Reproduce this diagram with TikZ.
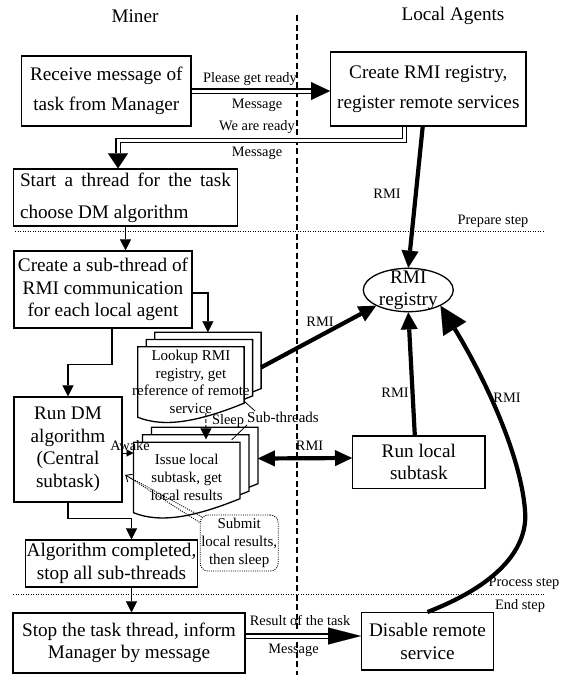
\documentclass[tikz,border=0pt]{standalone}
\usepackage{fontspec}
\setmainfont{Liberation Serif}
\usetikzlibrary{arrows.meta,calc,shapes.geometric,backgrounds}

\newcommand{\boxfont}{\fontsize{19.2}{22.5}\selectfont}
\newcommand{\lblfont}{\fontsize{14.4}{17}\selectfont}
\newcommand{\docfont}{\fontsize{15}{17.7}\selectfont}

\begin{document}
\begin{tikzpicture}[x=1pt,y=-1pt,
  box/.style={draw,line width=1.3pt,inner sep=0pt,align=center,font=\boxfont},
  doc/.style={inner sep=0pt,minimum width=106pt,minimum height=70pt,align=center,font=\docfont},
  docline/.style={line width=1.3pt,fill=white},
  lbl/.style={inner sep=0pt,font=\lblfont},
  flow/.style={line width=1.3pt,-{Triangle[length=11pt,width=11pt,line width=0.1pt]}},
  rmi/.style={line width=4.2pt,-{Triangle[length=17pt,width=17pt,line width=0.1pt]}},
  msg/.style 2 args={line width=5.2pt,-{Triangle[length=#1,width=#2,line width=0.1pt]},
    postaction={draw=white,line width=3pt,shorten <=0.7pt,shorten >=#1,-}},
  stepline/.style={line width=1pt,dash pattern=on 1pt off 1.5pt},
  noteline/.style={line width=0.9pt,dash pattern=on 1pt off 1.2pt}]

\useasboundingbox (0,0) rectangle (566,675);

% lanes and steps
\node[lbl,font=\boxfont] (tMiner) at (135,16) {Miner};
\node[lbl,font=\boxfont] (tAgents) at (453,16) {Local Agents};
\draw[line width=1.2pt,dash pattern=on 6pt off 3.5pt] (297,15) -- (297,675);
\draw[stepline] (15,231) -- (545,231);
\draw[stepline] (13,594) -- (544,594);
\node[lbl] (lPrep) at (493,221) {Prepare step};
\node[lbl] (lProc) at (524,583) {Process step};
\node[lbl] (lEnd) at (520,606) {End step};

% miner
\node[box,minimum width=169.3pt,minimum height=70pt,font=\fontsize{19.2}{30}\selectfont] (recv) at (106.3,91) {Receive message of\\task from Manager};
\node[box,minimum width=224.4pt,minimum height=57pt,text width=211pt,align=justify,font=\fontsize{19.2}{31.7}\selectfont] (start) at (125.5,197.5) {Start a thread for the task\linebreak choose DM algorithm};
\node[box,minimum width=178pt,minimum height=77pt] (subth) at (103,289.5) {Create a sub-thread of\\RMI communication\\for each local agent};
\node[box,minimum width=108pt,minimum height=105pt] (rundm) at (68,449.5) {Run DM\\algorithm\\(Central\\subtask)};
\node[box,minimum width=172pt,minimum height=47pt] (algo) at (111.5,563.5) {Algorithm completed,\\stop all sub-threads};
\node[box,minimum width=232pt,minimum height=60pt] (stop) at (129,643) {Stop the task thread, inform\\Manager by message};

% sub-threads
\node[doc] (lookC) at (207.9,367.4) {};
\node[doc] (lookB) at (199.4,374.7) {};
\node[doc] (lookA) at (190.9,382) {Lookup RMI\\registry, get\\\makebox[0pt]{reference of remote}\\service};
\node[doc] (issC) at (204.7,462.5) {};
\node[doc] (issB) at (195.7,470) {};
\node[doc] (issA) at (186.7,477.5) {Issue local\\subtask, get\\local results};
\begin{scope}[on background layer]
\foreach \d in {lookC,lookB,lookA,issC,issB,issA}
  \draw[docline] (\d.south west) -- (\d.north west) -- (\d.north east) -- ($(\d.south east)+(0,-14)$)
    .. controls ($(\d.south west)+(62,4)$) and ($(\d.south west)+(27,11)$) .. (\d.south west) -- cycle;
\end{scope}
\node[draw,noteline,rounded corners=8pt,minimum width=78pt,minimum height=56pt,inner sep=0pt,align=center,font=\fontsize{15}{18}\selectfont] (note) at (239.2,543) {Submit\\local results,\\then sleep};

% local agents
\node[box,minimum width=195.3pt,minimum height=74pt,font=\fontsize{19.2}{30}\selectfont] (reg) at (428.3,89) {Create RMI registry,\\register remote services};
\node[draw,ellipse,line width=1.3pt,minimum width=90pt,minimum height=43.4pt,inner sep=0pt,
  label={[font=\fontsize{19.2}{21.7}\selectfont,align=center]center:RMI\\registry}] (rmireg) at (408.3,290) {};
\node[box,minimum width=132.3pt,minimum height=52.3pt] (runloc) at (418.8,462) {Run local\\subtask};
\node[box,minimum width=131.6pt,minimum height=57.3pt] (disab) at (427.5,641.3) {Disable remote\\service};

% messages
\draw[msg={19pt}{18pt}] (recv.east) -- (recv.east -| reg.west);
\node[lbl] (lReady) at (250,79) {Please get ready};
\node[lbl] (lMsgA) at (257,105) {Message};
\draw[msg={15pt}{20pt}] ($(reg.south)+(-24,0)$) -- ++(0,14) -| ($(start.north)+(-7.5,0)$);
\node[lbl] (lWeReady) at (257,127) {We are ready};
\node[lbl] (lMsgB) at (257,153) {Message};
\draw[msg={33pt}{17pt}] ($(stop.east)+(0,-7)$) -- ($(disab.west)+(0,-5.3)$);
\node[lbl] (lResult) at (300,620) {Result of the task};
\node[lbl] (lMsgC) at (293.5,650) {Message};

% flow in the miner
\draw[flow] (start.south) -- (start.south |- subth.north);
\draw[flow] ($(subth.east)+(0,3.5)$) -| (lookC.north);
\draw[flow] ($(subth.south)+(9,0)$) -- ++(0,36) -| (rundm.north);
\draw[flow] (rundm.south) -- ++(0,16) -| ($(algo.north)+(20,0)$);
\draw[flow] ($(algo.south)+(20,0)$) -- ($(stop.north)+(2.5,0)$);
\draw[flow,line width=1pt,dash pattern=on 4pt off 2pt] ($(lookA.south)+(15,-4)$) -- ($(issA.north)+(19.3,-3)$);
\node[lbl] (lSleep) at (228,421) {Sleep};
\draw[line width=1pt,-{Triangle[length=7pt,width=7pt,line width=0.1pt]}] ($(rundm.east)+(0,3.5)$) -- ($(issA.west |- rundm.east)+(0,3.5)$);
\node[lbl] (lAwake) at (130,446) {Awake};
\node[lbl,font=\docfont] (lSub) at (283,417) {Sub-threads};
\coordinate (subA) at (255,411);
\coordinate (subB) at (247,425);
\draw[line width=0.8pt] (subA) -- ($(lookA.south east)+(0,-16)$);
\draw[line width=0.8pt] (subB) -- ($(issB.north)+(36,5)$);
\coordinate (ptr) at ($(rundm.east)+(2.7,25.5)$);
\draw[noteline,{Straight Barb[length=5pt,width=9pt]}-] (ptr) -- ($(note.north west)+(0,8)$);
\draw[noteline] (ptr) -- ($(note.north west)+(2.3,2.3)$);

% RMI calls
\draw[rmi] ($(reg.south)+(-5.6,0)$) -- (rmireg.north);
\node[lbl] (lRmiA) at (387,194) {RMI};
\draw[rmi] (lookC.east) -- (rmireg.south west);
\node[lbl] (lRmiB) at (320,322) {RMI};
\draw[rmi] ($(runloc.north)+(-4,0)$) -- (rmireg.south);
\node[lbl] (lRmiC) at (395,393) {RMI};
\draw[rmi,{Triangle[length=17pt,width=16pt,line width=0.1pt]}-{Triangle[length=17pt,width=16pt,line width=0.1pt]}] ($(issC.east)+(0,-4)$) -- ($(runloc.west)+(0,-4)$);
\node[lbl] (lRmiE) at (309.5,446) {RMI};
\draw[rmi,-{Triangle[length=27pt,width=27pt,line width=0.1pt]}] (disab.north) .. controls (510,580) and (528,540) .. (525,510) .. controls (520,450) and (480,370) .. (rmireg.south east);
\node[lbl] (lRmiD) at (507,398) {RMI};
\end{tikzpicture}
\end{document}
